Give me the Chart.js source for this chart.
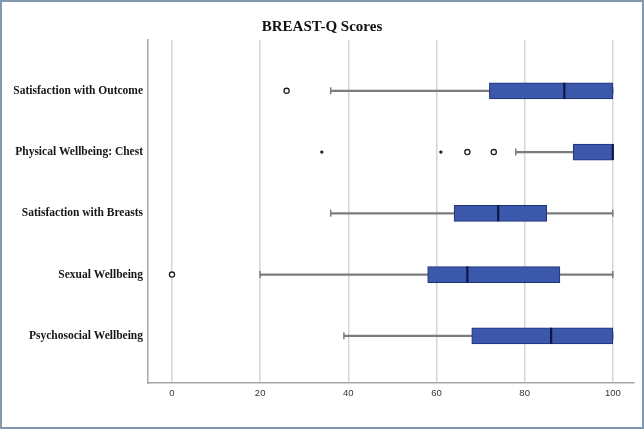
<!DOCTYPE html>
<html>
<head>
<meta charset="utf-8">
<title>BREAST-Q Scores</title>
<script src="https://cdn.jsdelivr.net/npm/chart.js@4"></script>
<style>
    html, body { margin: 0; padding: 0; background: #fff; }
    #wrap { width: 644px; height: 429px; position: relative; }
</style>
</head>
<body>
<div id="wrap"><canvas id="boxChart"></canvas></div>
<script>
// Scale names, top to bottom
const categories = [
    "Satisfaction with Outcome",
    "Physical Wellbeing: Chest",
    "Satisfaction with Breasts",
    "Sexual Wellbeing",
    "Psychosocial Wellbeing"
];

// Five-number summaries
const whiskerLow = [36, 78, 36, 20, 39];
const quartile1  = [72, 91, 64, 58, 68];
const medians    = [89, 100, 74, 67, 86];
const quartile3  = [100, 100, 85, 88, 100];
const whiskerHigh = [100, 100, 100, 100, 100];

// Outliers (circles) and extremes (stars): [category index, score]
const outliers = [[0, 26], [1, 67], [1, 73], [3, 0]];
const extremes = [[1, 34], [1, 61]];

const xTicks = [0, 20, 40, 60, 80, 100];

const boxBlue = "#3c58aa";
const boxEdge = "#1f3276";
const whiskerGray = "#7c7c7c";

// White background and the thin frame round the picture
const framePlugin = {
    id: "frame",
    beforeDraw(chart) {
        const ctx = chart.ctx;
        ctx.save();
        ctx.fillStyle = "#fff";
        ctx.fillRect(0, 0, chart.width, chart.height);
        ctx.restore();
    },
    afterDraw(chart) {
        const ctx = chart.ctx;
        ctx.save();
        ctx.strokeStyle = "#8298ae";
        ctx.lineWidth = 2;
        ctx.strokeRect(1, 1, chart.width - 2, chart.height - 2);
        ctx.restore();
    }
};

const ctx = document.getElementById("boxChart").getContext("2d");
new Chart(ctx, {
    type: "bar",
    data: {
        datasets: [
            {
                label: "Whiskers",
                data: categories.map((c, i) => ({ x: [whiskerLow[i], whiskerHigh[i]], y: i })),
                backgroundColor: whiskerGray,
                barThickness: 1.6,
                grouped: false,
                order: 5
            },
            {
                label: "Caps",
                type: "scatter",
                data: categories.flatMap((c, i) => [{ x: whiskerLow[i], y: i }, { x: whiskerHigh[i], y: i }]),
                pointStyle: "line",
                rotation: 90,
                radius: 3.5,
                borderColor: whiskerGray,
                borderWidth: 1.5,
                order: 4
            },
            {
                label: "Boxes",
                data: categories.map((c, i) => ({ x: [quartile1[i], quartile3[i]], y: i })),
                backgroundColor: boxBlue,
                borderColor: boxEdge,
                borderWidth: 1,
                borderSkipped: false,
                barThickness: 16,
                grouped: false,
                order: 3
            },
            {
                label: "Medians",
                type: "scatter",
                data: categories.map((c, i) => ({ x: medians[i], y: i })),
                pointStyle: "line",
                rotation: 90,
                radius: 8,
                borderColor: "#0c1745",
                borderWidth: 2.2,
                order: 2
            },
            {
                label: "Outliers",
                type: "scatter",
                data: outliers.map(o => ({ x: o[1], y: o[0] })),
                pointStyle: "circle",
                radius: 2.6,
                backgroundColor: "#fff",
                borderColor: "#222",
                borderWidth: 1.3,
                order: 1
            },
            {
                label: "Extremes",
                type: "scatter",
                data: extremes.map(o => ({ x: o[1], y: o[0] })),
                pointStyle: "circle",
                radius: 1.4,
                backgroundColor: "#222",
                borderColor: "#222",
                borderWidth: 0.5,
                order: 1
            }
        ]
    },
    options: {
        indexAxis: "y",
        responsive: true,
        maintainAspectRatio: false,
        animation: false,
        layout: { padding: { left: 0, right: 0, top: 0, bottom: 0 } },
        plugins: {
            legend: { display: false },
            tooltip: { enabled: false },
            title: {
                display: true,
                text: "BREAST-Q Scores",
                color: "#111",
                font: { family: "'Liberation Serif', 'Times New Roman', serif", size: 15, weight: "bold" },
                padding: { top: 18, bottom: 4 }
            }
        },
        scales: {
            x: {
                type: "linear",
                min: -5.44,
                max: 104.76,
                afterBuildTicks: scale => { scale.ticks = xTicks.map(v => ({ value: v })); },
                afterFit: scale => { scale.height = 46; },
                grid: { color: "#d6d6d6", lineWidth: 1.5, drawTicks: false },
                border: { display: true, color: "#a6a6a6", width: 1.5 },
                ticks: {
                    padding: 5,
                    color: "#333",
                    font: { family: "'Liberation Sans', Arial, sans-serif", size: 9.5 }
                }
            },
            y: {
                type: "linear",
                reverse: true,
                offset: false,
                min: -0.83,
                max: 4.77,
                afterBuildTicks: scale => { scale.ticks = categories.map((c, i) => ({ value: i })); },
                afterFit: scale => { scale.width = 148; },
                grid: { display: false, drawTicks: false },
                border: { display: true, color: "#a6a6a6", width: 1.5 },
                ticks: {
                    padding: 5,
                    color: "#161616",
                    font: { family: "'Liberation Serif', 'Times New Roman', serif", size: 11.5, weight: "bold" },
                    callback: value => categories[value]
                }
            }
        }
    },
    plugins: [framePlugin]
});
</script>
</body>
</html>
